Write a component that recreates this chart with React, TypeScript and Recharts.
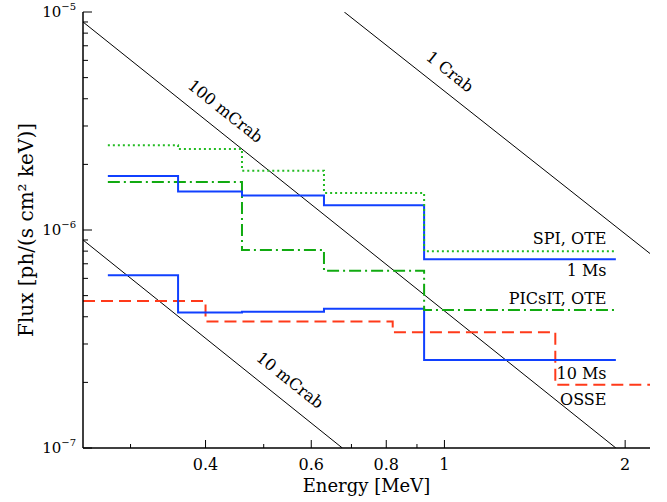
import React from "react";
import { LineChart, Line, XAxis, YAxis, ReferenceDot } from "recharts";

// ---- data ----
const binEdges = [0.275, 0.36, 0.46, 0.63, 0.925, 1.93];
const spiOte = [2.45e-6, 2.35e-6, 1.87e-6, 1.48e-6, 8.0e-7];
const oneMs = [1.77e-6, 1.5e-6, 1.44e-6, 1.3e-6, 7.35e-7];
const picsitOte = [1.66e-6, 1.66e-6, 8.1e-7, 6.5e-7, 4.3e-7];
const tenMs = [6.2e-7, 4.18e-7, 4.22e-7, 4.35e-7, 2.53e-7];
const osseEdges = [0.25, 0.4, 0.82, 1.53, 2.2];
const osse = [4.72e-7, 3.8e-7, 3.4e-7, 1.95e-7];

const crab1E = [0.681, 2.2];
const crab1F = [1e-5, 7.8e-7];
const crab100E = [0.25, 1.93];
const crab100F = [9.0e-6, 1e-7];
const crab10E = [0.25, 0.676];
const crab10F = [9.0e-7, 1e-7];

const xTicks = [0.3, 0.4, 0.5, 0.6, 0.7, 0.8, 0.9, 1, 2];
const xTickLabels: Record<string, string> = { "0.4": "0.4", "0.6": "0.6", "0.8": "0.8", "1": "1", "2": "2" };
const yTicks = [
  1e-7, 2e-7, 3e-7, 4e-7, 5e-7, 6e-7, 7e-7, 8e-7, 9e-7,
  1e-6, 2e-6, 3e-6, 4e-6, 5e-6, 6e-6, 7e-6, 8e-6, 9e-6, 1e-5,
];
const yMajor: Record<string, string> = { "1e-7": "\u22127", "0.000001": "\u22126", "0.00001": "\u22125" };

const curveLabels = [
  { text: "SPI, OTE", x: 1.862, y: 8.63e-7 },
  { text: "1 Ms", x: 1.862, y: 6.15e-7 },
  { text: "PICsIT, OTE", x: 1.862, y: 4.58e-7 },
  { text: "10 Ms", x: 1.862, y: 2.07e-7 },
  { text: "OSSE", x: 1.862, y: 1.575e-7 },
];
const crabLabels = [
  { text: "1 Crab", x: 1.019, y: 5.28e-6 },
  { text: "100 mCrab", x: 0.4307, y: 3.48e-6 },
  { text: "10 mCrab", x: 0.5516, y: 2.03e-7 },
];

const FONT = "'DejaVu Serif', serif";

const steps = (edges: number[], vals: number[]) =>
  edges.map((e, i) => ({ x: e, y: vals[Math.min(i, vals.length - 1)] }));
const pair = (es: number[], fs: number[]) => es.map((e, i) => ({ x: e, y: fs[i] }));

const isMajorX = (v: number) => xTickLabels[String(v)] !== undefined;
const isMajorY = (v: number) => yMajor[String(v)] !== undefined;

const BottomTick = (p: any) => {
  const { x, y, payload } = p;
  const v = payload.value;
  const major = isMajorX(v);
  return (
    <g>
      <line x1={x} x2={x} y1={y} y2={y - (major ? 8 : 4)} stroke="#000" strokeWidth={1} />
      {major && (
        <text x={x} y={y + 22} textAnchor="middle" fontFamily={FONT} fontSize={16} fill="#000">
          {xTickLabels[String(v)]}
        </text>
      )}
    </g>
  );
};
const TopTick = (p: any) => {
  const { x, y, payload } = p;
  const major = isMajorX(payload.value);
  return <line x1={x} x2={x} y1={y} y2={y + (major ? 8 : 4)} stroke="#000" strokeWidth={1} />;
};
const LeftTick = (p: any) => {
  const { x, y, payload } = p;
  const v = payload.value;
  const major = isMajorY(v);
  return (
    <g>
      <line x1={x} x2={x + (major ? 9 : 5)} y1={y} y2={y} stroke="#000" strokeWidth={1} />
      {major && (
        <text x={x - 7} y={y + 5} textAnchor="end" fontFamily={FONT} fontSize={15} fill="#000">
          <tspan>10</tspan>
          <tspan dy={-7} fontSize={10}>{yMajor[String(v)]}</tspan>
        </text>
      )}
    </g>
  );
};
const RightTick = (p: any) => {
  const { x, y, payload } = p;
  const major = isMajorY(payload.value);
  return <line x1={x} x2={x - (major ? 9 : 5)} y1={y} y2={y} stroke="#000" strokeWidth={1} />;
};

export default function App() {
  return (
    <div style={{ position: "absolute", left: 0, top: 0 }}>
      <LineChart width={667} height={502} margin={{ top: 12, right: 17, left: 0, bottom: 0 }}>
        <XAxis
          xAxisId="b"
          dataKey="x"
          type="number"
          scale="log"
          domain={[0.25, 2.2]}
          allowDataOverflow
          ticks={xTicks}
          interval={0}
          tickSize={0}
          tickMargin={0}
          tick={BottomTick}
          axisLine={{ stroke: "#000", strokeWidth: 1.5 }}
          height={54}
          label={{
            content: (lp: any) => {
              const vb = lp.viewBox;
              return (
                <text x={vb.x + vb.width / 2} y={vb.y + 44} textAnchor="middle" fontFamily={FONT} fontSize={18} fill="#000">
                  Energy [MeV]
                </text>
              );
            },
          }}
        />
        <XAxis
          xAxisId="t"
          orientation="top"
          dataKey="x"
          type="number"
          scale="log"
          domain={[0.25, 2.2]}
          allowDataOverflow
          ticks={xTicks}
          interval={0}
          tickSize={0}
          tickMargin={0}
          tick={TopTick}
          axisLine={{ stroke: "#000", strokeWidth: 1.5 }}
          height={0}
        />
        <YAxis
          yAxisId="l"
          type="number"
          scale="log"
          domain={[1e-7, 1e-5]}
          allowDataOverflow
          ticks={yTicks}
          interval={0}
          tickSize={0}
          tickMargin={0}
          tick={LeftTick}
          axisLine={{ stroke: "#000", strokeWidth: 1.5 }}
          width={83}
          label={{
            content: (lp: any) => {
              const vb = lp.viewBox;
              const cx = vb.x + 27;
              const cy = vb.y + vb.height / 2;
              return (
                <text x={cx} y={cy} transform={`rotate(-90 ${cx} ${cy})`} textAnchor="middle" dominantBaseline="middle" fontFamily={FONT} fontSize={20} fill="#000">
                  Flux [ph/(s cm² keV)]
                </text>
              );
            },
          }}
        />
        <YAxis
          yAxisId="r"
          orientation="right"
          type="number"
          scale="log"
          domain={[1e-7, 1e-5]}
          allowDataOverflow
          ticks={yTicks}
          interval={0}
          tickSize={0}
          tickMargin={0}
          tick={RightTick}
          axisLine={{ stroke: "#000", strokeWidth: 1.5 }}
          width={0}
        />

        <Line xAxisId="b" yAxisId="l" data={pair(crab1E, crab1F)} dataKey="y" stroke="#000" strokeWidth={1} dot={false} isAnimationActive={false} />
        <Line xAxisId="b" yAxisId="l" data={pair(crab100E, crab100F)} dataKey="y" stroke="#000" strokeWidth={1} dot={false} isAnimationActive={false} />
        <Line xAxisId="b" yAxisId="l" data={pair(crab10E, crab10F)} dataKey="y" stroke="#000" strokeWidth={1} dot={false} isAnimationActive={false} />

        <Line xAxisId="b" yAxisId="l" type="stepAfter" data={steps(osseEdges, osse)} dataKey="y" stroke="#ff3a1a" strokeWidth={2} strokeDasharray="12 6" dot={false} isAnimationActive={false} />
        <Line xAxisId="b" yAxisId="l" type="stepAfter" data={steps(binEdges, tenMs)} dataKey="y" stroke="#1040ff" strokeWidth={2} dot={false} isAnimationActive={false} />
        <Line xAxisId="b" yAxisId="l" type="stepAfter" data={steps(binEdges, picsitOte)} dataKey="y" stroke="#11aa11" strokeWidth={2} strokeDasharray="12 4 2 4" dot={false} isAnimationActive={false} />
        <Line xAxisId="b" yAxisId="l" type="stepAfter" data={steps(binEdges, oneMs)} dataKey="y" stroke="#1040ff" strokeWidth={2} dot={false} isAnimationActive={false} />
        <Line xAxisId="b" yAxisId="l" type="stepAfter" data={steps(binEdges, spiOte)} dataKey="y" stroke="#22bb22" strokeWidth={2} strokeDasharray="2 3" dot={false} isAnimationActive={false} />

        {curveLabels.map((l) => (
          <ReferenceDot
            key={l.text}
            xAxisId="b"
            yAxisId="l"
            x={l.x}
            y={l.y}
            r={0}
            ifOverflow="visible"
            shape={(p: any) => (
              <text x={p.cx} y={p.cy} textAnchor="end" fontFamily={FONT} fontSize={16} fill="#000">
                {l.text}
              </text>
            )}
          />
        ))}
        {crabLabels.map((l) => (
          <ReferenceDot
            key={l.text}
            xAxisId="b"
            yAxisId="l"
            x={l.x}
            y={l.y}
            r={0}
            ifOverflow="visible"
            shape={(p: any) => (
              <text
                x={p.cx}
                y={p.cy}
                transform={`rotate(38.6 ${p.cx} ${p.cy})`}
                textAnchor="middle"
                dominantBaseline="middle"
                fontFamily={FONT}
                fontSize={16}
                fill="#000"
              >
                {l.text}
              </text>
            )}
          />
        ))}
      </LineChart>
    </div>
  );
}
